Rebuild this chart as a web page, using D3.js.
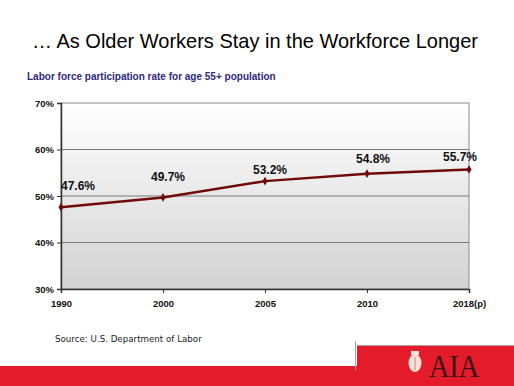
<!DOCTYPE html>
<html>
<head>
<meta charset="utf-8">
<script src="https://cdn.jsdelivr.net/npm/d3@7"></script>
<style>
  html, body { margin: 0; padding: 0; background: #fff; }
  svg { display: block; }
</style>
</head>
<body>
<svg id="chart" width="514" height="386"></svg>
<script>
// data
const years = ['1990', '2000', '2005', '2010', '2018(p)'];
const rates = [47.6, 49.7, 53.2, 54.8, 55.7];
const yTicks = [30, 40, 50, 60, 70];

const svg = d3.select('#chart');
const W = 514, H = 386;
const plot = { left: 61, right: 469, top: 103, bottom: 289 };

// title + subtitle
svg.append('text')
  .attr('x', 32).attr('y', 48)
  .attr('font-family', 'Liberation Sans, Arial, sans-serif')
  .attr('font-size', 20.4)
  .attr('fill', '#000')
  .attr('textLength', 446)
  .attr('lengthAdjust', 'spacingAndGlyphs')
  .text('\u2026 As Older Workers Stay in the Workforce Longer');

svg.append('text')
  .attr('x', 27).attr('y', 80)
  .attr('font-family', 'Liberation Sans, Arial, sans-serif')
  .attr('font-size', 10)
  .attr('font-weight', 'bold')
  .attr('fill', '#2e2a7a')
  .text('Labor force participation rate for age 55+ population');

const x = d3.scalePoint().domain(years).range([plot.left, plot.right]);
const y = d3.scaleLinear().domain([30, 70]).range([plot.bottom, plot.top]);

// plot background gradient
const defs = svg.append('defs');
const grad = defs.append('linearGradient').attr('id', 'bg')
  .attr('x1', 0).attr('y1', 0).attr('x2', 0).attr('y2', 1);
grad.append('stop').attr('offset', '0%').attr('stop-color', '#ffffff');
grad.append('stop').attr('offset', '100%').attr('stop-color', '#d2d2d2');

svg.append('rect')
  .attr('x', plot.left).attr('y', plot.top)
  .attr('width', plot.right - plot.left).attr('height', plot.bottom - plot.top)
  .attr('fill', 'url(#bg)')
  .attr('stroke', '#8a8a8a').attr('stroke-width', 1);

// gridlines
svg.append('g').selectAll('line')
  .data(yTicks.filter(d => d > 30 && d < 70))
  .join('line')
  .attr('x1', plot.left).attr('x2', plot.right)
  .attr('y1', d => y(d)).attr('y2', d => y(d))
  .attr('stroke', '#7a7a7a').attr('stroke-width', 1);

// axes
const yAxis = svg.append('g')
  .attr('transform', `translate(${plot.left},0)`)
  .call(d3.axisLeft(y).tickValues(yTicks).tickFormat(d => d + '%').tickSize(4).tickPadding(3));
const xAxis = svg.append('g')
  .attr('transform', `translate(0,${plot.bottom})`)
  .call(d3.axisBottom(x).tickSize(4).tickPadding(5));

[yAxis, xAxis].forEach(a => {
  a.select('.domain').attr('stroke', '#333').attr('stroke-width', 1.5);
  a.selectAll('.tick line').attr('stroke', '#333');
  a.selectAll('.tick text')
    .attr('font-family', 'Liberation Sans, Arial, sans-serif')
    .attr('font-size', 9.5)
    .attr('font-weight', 'bold')
    .attr('fill', '#111');
});
xAxis.selectAll('.tick text').attr('dy', '0.9em');

// line
const pts = years.map((yr, i) => ({ yr, v: rates[i] }));
svg.append('path')
  .datum(pts)
  .attr('fill', 'none')
  .attr('stroke', '#6e0a0a')
  .attr('stroke-width', 2.5)
  .attr('d', d3.line().x(d => x(d.yr)).y(d => y(d.v)));

svg.append('g').selectAll('path')
  .data(pts)
  .join('path')
  .attr('transform', d => `translate(${x(d.yr)},${y(d.v)})`)
  .attr('d', d3.symbol(d3.symbolDiamond, 22))
  .attr('fill', '#6e0a0a');

// data labels
const labelDx = [17, 5, 5, 6, -9];
const labelDy = [-20, -20, -10, -14, -12];
svg.append('g').selectAll('text')
  .data(pts)
  .join('text')
  .attr('x', (d, i) => x(d.yr) + labelDx[i])
  .attr('y', (d, i) => y(d.v) + labelDy[i])
  .attr('text-anchor', 'middle')
  .attr('dominant-baseline', 'middle')
  .attr('font-family', 'Liberation Sans, Arial, sans-serif')
  .attr('font-size', 12)
  .attr('font-weight', 'bold')
  .attr('fill', '#111')
  .text(d => d.v.toFixed(1) + '%');

// source
svg.append('text')
  .attr('x', 55).attr('y', 342)
  .attr('font-family', 'DejaVu Sans, Verdana, sans-serif')
  .attr('font-size', 8.7)
  .attr('fill', '#222')
  .text('Source: U.S. Department of Labor');

// footer band
svg.append('rect').attr('x', 0).attr('y', 366).attr('width', W).attr('height', H - 366).attr('fill', '#e31b2b');
svg.append('rect').attr('x', 357).attr('y', 346).attr('width', W - 357).attr('height', H - 346).attr('fill', '#e31b2b');
svg.append('line').attr('x1', 357).attr('x2', W).attr('y1', 345.5).attr('y2', 345.5).attr('stroke', '#b0a0a0').attr('stroke-width', 1);
svg.append('line').attr('x1', 355.5).attr('x2', 355.5).attr('y1', 341).attr('y2', 370).attr('stroke', '#b0a0a0').attr('stroke-width', 1);

// AIA logo
const logo = svg.append('g').attr('transform', 'translate(415,363)');
logo.append('ellipse').attr('rx', 6.5).attr('ry', 9).attr('fill', '#f6e2d8');
logo.append('rect').attr('x', -4).attr('y', -12).attr('width', 8).attr('height', 4).attr('fill', '#f6e2d8');
logo.append('line').attr('x1', 0).attr('x2', 0).attr('y1', -6).attr('y2', 7).attr('stroke', '#c98a80').attr('stroke-width', 1);
svg.append('text')
  .attr('x', 429).attr('y', 377)
  .attr('font-family', 'Liberation Serif, Times New Roman, serif')
  .attr('font-size', 32)
  .attr('fill', '#3a1414')
  .attr('textLength', 50)
  .attr('lengthAdjust', 'spacingAndGlyphs')
  .text('AIA');
</script>
</body>
</html>
